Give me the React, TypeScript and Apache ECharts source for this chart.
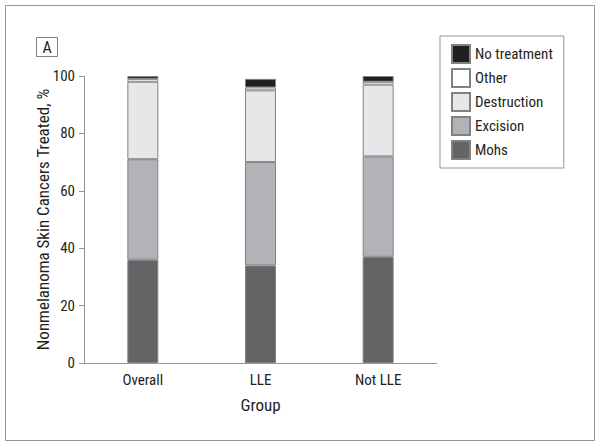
import React, { useEffect, useRef } from "react";
import * as echarts from "echarts";

const categories = ["Overall", "LLE", "Not LLE"];
const mohs = [36, 34, 37];
const excision = [35, 36, 35];
const destruction = [27, 25, 25];
const other = [1, 1, 1];
const noTreatment = [1, 3, 2];
const yTicks = [0, 20, 40, 60, 80, 100];

const FONT = "'Liberation Sans Narrow', 'Roboto Condensed', Roboto, sans-serif";

export default function App() {
  const ref = useRef<HTMLDivElement>(null);
  useEffect(() => {
    if (!ref.current) return;
    const chart = echarts.init(ref.current, undefined, { renderer: "svg" });
    const border = { borderColor: "#808285", borderWidth: 1 };
    const mk = (name: string, data: number[], color: string) => ({
      name,
      type: "bar",
      stack: "total",
      data,
      barWidth: 31,
      itemStyle: { color, ...border },
    });
    chart.setOption({
      animation: false,
      textStyle: { fontFamily: FONT },
      grid: { left: 84, right: 163, top: 76, bottom: 84 },
      legend: {
        orient: "vertical",
        left: 440,
        top: 36,
        data: ["No treatment", "Other", "Destruction", "Excision", "Mohs"],
        padding: [8, 11, 8, 11],
        itemGap: 4,
        itemWidth: 18,
        itemHeight: 18,
        borderColor: "#939598",
        borderWidth: 1,
        icon: "rect",
        textStyle: { fontSize: 15, color: "#231f20", fontFamily: FONT },
      },
      xAxis: {
        type: "category",
        data: categories,
        name: "Group",
        nameLocation: "middle",
        nameGap: 33,
        nameTextStyle: { fontSize: 17, color: "#231f20", fontFamily: FONT },
        axisLine: { lineStyle: { color: "#939598", width: 1 } },
        axisTick: { show: false },
        axisLabel: { fontSize: 15, color: "#231f20", margin: 9, fontFamily: FONT },
      },
      yAxis: {
        type: "value",
        min: yTicks[0],
        max: yTicks[yTicks.length - 1],
        interval: 20,
        name: "Nonmelanoma Skin Cancers Treated, %",
        nameLocation: "middle",
        nameGap: 33,
        nameMoveOverlap: false,
        nameTextStyle: { fontSize: 17, color: "#231f20", fontFamily: FONT },
        axisLine: { show: true, lineStyle: { color: "#939598", width: 1 } },
        axisTick: { show: true, length: 5, lineStyle: { color: "#939598" } },
        splitLine: { show: false },
        axisLabel: { fontSize: 15, color: "#231f20", margin: 9, fontFamily: FONT },
      },
      series: [
        mk("Mohs", mohs, "#636466"),
        mk("Excision", excision, "#b1b3b6"),
        mk("Destruction", destruction, "#e6e7e8"),
        mk("Other", other, "#ffffff"),
        mk("No treatment", noTreatment, "#231f20"),
      ],
      graphic: [
        {
          type: "rect",
          shape: { x: 5.5, y: 5.5, width: 589, height: 435 },
          style: { fill: "none", stroke: "#939598", lineWidth: 1 },
        },
        {
          type: "rect",
          shape: { x: 36.5, y: 37.5, width: 21, height: 19 },
          style: { fill: "#fff", stroke: "#808285", lineWidth: 1 },
        },
        {
          type: "text",
          x: 47,
          y: 47.5,
          style: {
            text: "A",
            fontSize: 16,
            fontFamily: FONT,
            fill: "#231f20",
            align: "center",
            verticalAlign: "middle",
          },
        },
      ],
    });
    return () => chart.dispose();
  }, []);
  return (
    <div
      ref={ref}
      style={{ position: "fixed", left: 0, top: 0, width: 600, height: 447, background: "#fff" }}
    />
  );
}
